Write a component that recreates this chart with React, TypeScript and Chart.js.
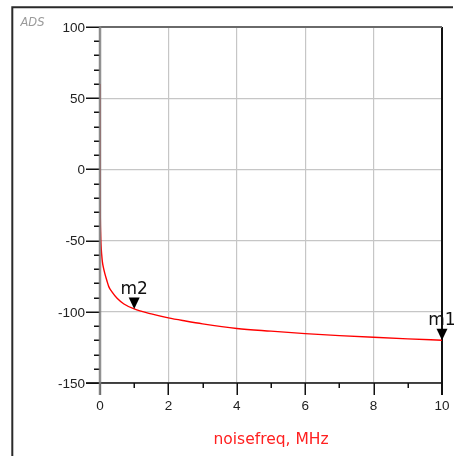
import React, { useEffect, useRef } from "react";
import { Chart, registerables } from "chart.js";

Chart.register(...registerables);

// ---- data ----
const noiseFreqMHz = [
  0.0005, 0.002, 0.005, 0.01, 0.02, 0.03, 0.05, 0.07, 0.1, 0.14, 0.2, 0.26,
  0.35, 0.5, 0.7, 1, 1.5, 2, 2.5, 3, 4, 5, 6, 7, 8, 9, 10,
];
const noiseDb = [
  60, 20, -20, -35, -46, -53, -60, -65, -69, -73, -78, -82.5, -86, -90.5,
  -94.5, -98, -101.5, -104.3, -106.5, -108.5, -111.7, -113.6, -115.3, -116.7,
  -117.9, -119, -120,
];
const xMajorTicks = [0, 2, 4, 6, 8, 10];
const xMinorTicks = [1, 3, 5, 7, 9];
const yMajorTicks = [100, 50, 0, -50, -100, -150];
const yMinorTicks = [
  90, 80, 70, 60, 40, 30, 20, 10, -10, -20, -30, -40, -60, -70, -80, -90,
  -110, -120, -130, -140,
];
const markerNames = ["m1", "m2"];
const markerFreq = [10, 1];
const markerDb = [-120, -98];
const xTitle = "noisefreq, MHz";
const cornerText = "ADS";

const FONT = "'DejaVu Sans', sans-serif";
const TICK_FONT = "'Liberation Sans', Arial, sans-serif";

const decorPlugin = {
  id: "adsDecor",
  beforeDatasetsDraw(chart: any) {
    const ctx = chart.ctx as CanvasRenderingContext2D;
    const xs = chart.scales.x;
    const ys = chart.scales.y;
    const a = chart.chartArea;
    ctx.save();
    // outer frame
    ctx.strokeStyle = "#2a2a2a";
    ctx.lineWidth = 2;
    ctx.beginPath();
    ctx.moveTo(12.3, 460);
    ctx.lineTo(12.3, 7.3);
    ctx.lineTo(453, 7.3);
    ctx.stroke();
    // corner label
    ctx.fillStyle = "#9a9a9a";
    ctx.font = `italic 11.5px ${FONT}`;
    ctx.textAlign = "left";
    ctx.textBaseline = "alphabetic";
    ctx.fillText(cornerText, 20.5, 26);

    const x10 = xs.getPixelForValue(10);
    const yTop = ys.getPixelForValue(100);
    const yBot = ys.getPixelForValue(-150);

    // y ticks
    ctx.strokeStyle = "#111";
    ctx.lineWidth = 1.5;
    ctx.beginPath();
    yMajorTicks.forEach((v) => {
      const py = Math.round(ys.getPixelForValue(v)) + 0.25;
      ctx.moveTo(a.left - 14, py);
      ctx.lineTo(a.left, py);
    });
    yMinorTicks.forEach((v) => {
      const py = Math.round(ys.getPixelForValue(v)) + 0.25;
      ctx.moveTo(a.left - 6, py);
      ctx.lineTo(a.left, py);
    });
    // x ticks
    xMajorTicks.forEach((v) => {
      const px = Math.round(xs.getPixelForValue(v)) + 0.25;
      ctx.moveTo(px, a.bottom);
      ctx.lineTo(px, a.bottom + 12);
    });
    xMinorTicks.forEach((v) => {
      const px = Math.round(xs.getPixelForValue(v)) + 0.25;
      ctx.moveTo(px, a.bottom);
      ctx.lineTo(px, a.bottom + 5);
    });
    ctx.stroke();

    // bottom axis line
    ctx.beginPath();
    ctx.lineWidth = 1.5;
    ctx.moveTo(a.left - 14, yBot);
    ctx.lineTo(x10, yBot);
    ctx.stroke();
    // right border
    ctx.beginPath();
    ctx.lineWidth = 2;
    ctx.moveTo(x10, yTop);
    ctx.lineTo(x10, yBot + 12);
    ctx.stroke();

    // tick labels
    ctx.fillStyle = "#222";
    ctx.font = `13.5px ${TICK_FONT}`;
    ctx.textAlign = "right";
    ctx.textBaseline = "middle";
    yMajorTicks.forEach((v) => {
      ctx.fillText(String(v), a.left - 15, ys.getPixelForValue(v) + 1);
    });
    ctx.textAlign = "center";
    xMajorTicks.forEach((v) => {
      ctx.fillText(String(v), xs.getPixelForValue(v), a.bottom + 23.5);
    });

    // x title
    ctx.fillStyle = "#ff2020";
    ctx.font = `15.5px ${FONT}`;
    ctx.textAlign = "center";
    ctx.textBaseline = "alphabetic";
    ctx.fillText(xTitle, (a.left + a.right) / 2, 443.5);
    ctx.restore();
  },
  afterDatasetsDraw(chart: any) {
    const ctx = chart.ctx as CanvasRenderingContext2D;
    const xs = chart.scales.x;
    const ys = chart.scales.y;
    ctx.save();
    const x0 = xs.getPixelForValue(0);
    const x10 = xs.getPixelForValue(10);
    const yTop = ys.getPixelForValue(100);
    const yBot = ys.getPixelForValue(-150);
    // top border
    ctx.beginPath();
    ctx.strokeStyle = "#6a6a6a";
    ctx.lineWidth = 2;
    ctx.moveTo(x0, yTop);
    ctx.lineTo(x10, yTop);
    ctx.stroke();
    // left axis (drawn over the curve, as in the reference)
    ctx.beginPath();
    ctx.strokeStyle = "rgba(128,128,128,0.85)";
    ctx.lineWidth = 2.5;
    ctx.moveTo(x0, yTop - 1);
    ctx.lineTo(x0, yBot + 12);
    ctx.stroke();

    markerNames.forEach((name, i) => {
      const px = xs.getPixelForValue(markerFreq[i]);
      const py = ys.getPixelForValue(markerDb[i]);
      ctx.fillStyle = "#000";
      ctx.beginPath();
      ctx.moveTo(px, py);
      ctx.lineTo(px - 5.5, py - 11.5);
      ctx.lineTo(px + 5.5, py - 11.5);
      ctx.closePath();
      ctx.fill();
      ctx.font = `17px ${FONT}`;
      ctx.textAlign = "center";
      ctx.textBaseline = "alphabetic";
      ctx.fillStyle = "#111";
      ctx.fillText(name, px, py - 15);
    });
    ctx.restore();
  },
};

export default function App() {
  const canvasRef = useRef<HTMLCanvasElement | null>(null);

  useEffect(() => {
    if (!canvasRef.current) return;
    const chart = new Chart(canvasRef.current, {
      type: "line",
      data: {
        datasets: [
          {
            data: noiseFreqMHz.map((f, i) => ({ x: f, y: noiseDb[i] })),
            borderColor: "#ff0000",
            borderWidth: 1.4,
            pointRadius: 0,
            fill: false,
            cubicInterpolationMode: "monotone",
          },
        ],
      },
      options: {
        animation: false,
        responsive: false,
        maintainAspectRatio: false,
        layout: { padding: { left: 100, top: 27, right: 16, bottom: 73 } },
        plugins: { legend: { display: false }, tooltip: { enabled: false } },
        scales: {
          x: {
            type: "linear",
            min: 0,
            max: 10,
            ticks: { display: false, stepSize: 2 },
            grid: { drawTicks: false, color: "#c6c6c6", lineWidth: 1.2 },
            border: { display: false },
          },
          y: {
            type: "linear",
            min: -150,
            max: 100,
            ticks: { display: false, stepSize: 50 },
            grid: { drawTicks: false, color: "#c6c6c6", lineWidth: 1.2 },
            border: { display: false },
          },
        },
      },
      plugins: [decorPlugin],
    });
    return () => chart.destroy();
  }, []);

  return (
    <div style={{ position: "fixed", left: 0, top: 0, width: 458, height: 456, background: "#fff" }}>
      <canvas ref={canvasRef} width={458} height={456} />
    </div>
  );
}
